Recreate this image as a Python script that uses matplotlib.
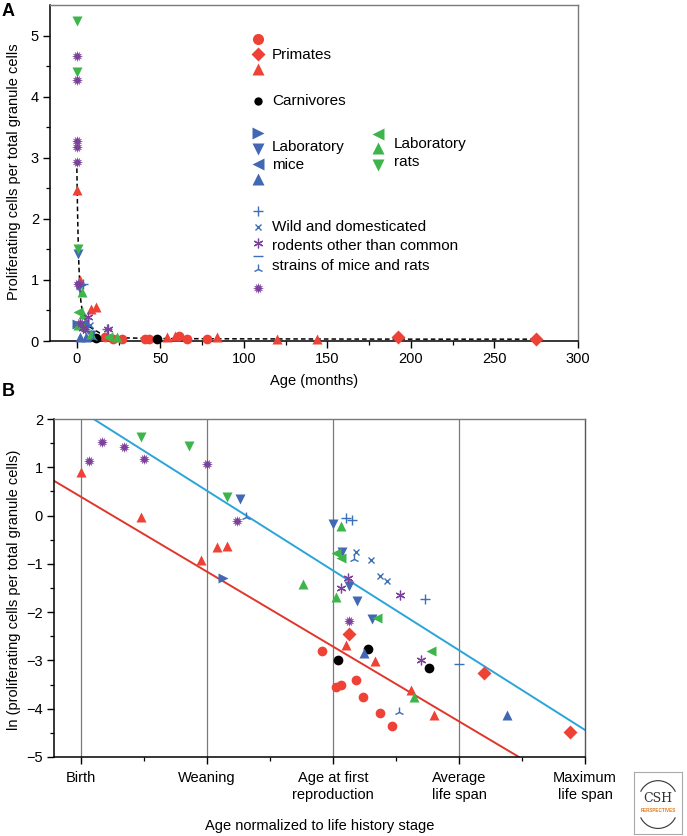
import numpy as np
import matplotlib
matplotlib.use('Agg')
import matplotlib.pyplot as plt
from matplotlib.patches import Arc

plt.rcParams['font.family'] = ['Liberation Sans', 'DejaVu Sans']
plt.rcParams['font.size'] = 10.5

RED = '#ee4236'
GREEN = '#3db54a'
BLUE = '#4368b3'
PURPLE = '#7b3f9c'
CROSS = '#3b6fb6'
CYAN = '#2aa5d9'
BURST = (12, 1, 0)
ASTER = (6, 2, 0)

# ---------------- panel A data (age in months, proliferating fraction) ----------------
a_red_circle_x = [17, 22, 27, 41, 43, 61, 66, 78]
a_red_circle_y = [0.06, 0.04, 0.04, 0.04, 0.04, 0.08, 0.03, 0.03]
a_red_diamond_x = [192, 275]
a_red_diamond_y = [0.06, 0.03]
a_red_tri_x = [0, 2.2, 8.8, 11.8, 54, 59, 84, 120, 144]
a_red_tri_y = [2.47, 1.0, 0.53, 0.55, 0.07, 0.08, 0.07, 0.03, 0.03]
a_black_x = [11.4, 48]
a_black_y = [0.05, 0.04]
a_blue_right_x = [0, 2.8]
a_blue_right_y = [0.28, 0.92]
a_blue_down_x = [0.5, 1.5, 8.8]
a_blue_down_y = [1.43, 0.88, 0.1]
a_blue_left_x = [0, 4.5]
a_blue_left_y = [0.24, 0.3]
a_blue_up_x = [2.0, 5.8]
a_blue_up_y = [0.06, 0.07]
a_green_left_x = [0.8, 1.8, 18.7]
a_green_left_y = [0.48, 0.21, 0.07]
a_green_up_x = [3.0, 3.8, 0.8, 8.8, 23.8]
a_green_up_y = [0.81, 0.45, 0.26, 0.12, 0.07]
a_green_down_x = [0, 0, 1.0]
a_green_down_y = [5.24, 4.41, 1.5]
a_plus_x = [3.5, 18]
a_plus_y = [0.93, 0.2]
a_x_x = [7.8]
a_x_y = [0.26]
a_star_x = [6.7, 18.7, 4.0]
a_star_y = [0.4, 0.19, 0.22]
a_tri2_x = [10]
a_tri2_y = [0.05]
a_burst_x = [0, 0, 0, 0, 0, 0.5, 2.0, 5.0]
a_burst_y = [4.67, 4.28, 3.28, 3.17, 2.93, 0.93, 0.3, 0.2]

# dashed fitted curve
curve_x = [0.0, 0.5, 1.0, 1.5, 2.4, 3.5, 5.0, 7.8, 13.8, 20, 30, 50, 100, 200, 275]
curve_y = [2.95, 2.1, 1.45, 1.1, 0.67, 0.45, 0.33, 0.23, 0.13, 0.07, 0.05, 0.04, 0.035, 0.03, 0.03]

# ---------------- panel B data (life-history stage, ln fraction) ----------------
stage_labels = ['Birth', 'Weaning', 'Age at first\nreproduction', 'Average\nlife span', 'Maximum\nlife span']

b_red_circle_x = [1.91, 2.02, 2.06, 2.18, 2.24, 2.37, 2.47]
b_red_circle_y = [-2.8, -3.55, -3.51, -3.40, -3.75, -4.08, -4.35]
b_red_diamond_x = [2.13, 3.20, 3.88]
b_red_diamond_y = [-2.45, -3.25, -4.49]
b_red_tri_x = [0.0, 0.48, 0.95, 1.08, 1.16, 2.10, 2.33, 2.62, 2.80]
b_red_tri_y = [0.91, -0.02, -0.92, -0.66, -0.62, -2.68, -3.02, -3.62, -4.13]
b_black_x = [2.04, 2.28, 2.76]
b_black_y = [-3.0, -2.76, -3.15]
b_blue_right_x = [1.13]
b_blue_right_y = [-1.29]
b_blue_down_x = [1.26, 2.0, 2.07, 2.13, 2.19, 2.31]
b_blue_down_y = [0.34, -0.17, -0.75, -1.46, -1.76, -2.15]
b_blue_up_x = [2.25, 3.38]
b_blue_up_y = [-2.85, -4.13]
b_green_left_x = [2.02, 2.06, 2.35, 2.78]
b_green_left_y = [-0.77, -0.88, -2.13, -2.80]
b_green_up_x = [1.76, 2.02, 2.06, 2.64]
b_green_up_y = [-1.42, -1.69, -0.21, -3.76]
b_green_down_x = [0.48, 0.86, 1.16]
b_green_down_y = [1.62, 1.45, 0.38]
b_plus_x = [2.10, 2.15, 2.73]
b_plus_y = [-0.06, -0.09, -1.73]
b_x_x = [2.18, 2.30, 2.37, 2.43]
b_x_y = [-0.75, -0.92, -1.26, -1.35]
b_star_x = [2.06, 2.12, 2.53, 2.70]
b_star_y = [-1.5, -1.30, -1.64, -3.0]
b_dash_x = [3.0]
b_dash_y = [-3.07]
b_tri2_x = [1.31, 2.17, 2.52]
b_tri2_y = [-0.02, -0.9, -4.06]
b_burst_x = [0.06, 0.17, 0.34, 0.5, 1.0, 1.24, 2.13]
b_burst_y = [1.14, 1.52, 1.43, 1.17, 1.07, -0.11, -2.18]

# regression lines (end points)
cyan_x = [0.10, 4.0]
cyan_y = [2.0, -4.44]
red_x = [-0.214, 3.476]
red_y = [0.72, -5.0]

W, H = 687, 836
fig = plt.figure(figsize=(W / 100, H / 100), dpi=100)


def fx(px):
    return px / W


def fy(py):
    return 1 - py / H


def style_axes(ax):
    for s in ['top', 'right']:
        ax.spines[s].set_color('#7a7a7a')
        ax.spines[s].set_linewidth(1.0)
    for s in ['left', 'bottom']:
        ax.spines[s].set_linewidth(1.1)
    ax.tick_params(which='major', direction='out', length=5, width=1.0, labelsize=10.5, pad=3)
    ax.tick_params(which='minor', direction='out', length=3, width=0.9)
    ax.tick_params(top=False, right=False, which='both')


# marker size and line width per marker kind
LINE_MARKS = {'+': (7, 1.0), 'x': (5, 1.0), '_': (7, 1.0), '2': (7, 1.0), ASTER: (7, 0.9)}


def draw_mark(ax, xs, ys, mk, col, ms=7, **kw):
    if mk in LINE_MARKS:
        size, mew = LINE_MARKS[mk]
        ax.plot(xs, ys, linestyle='none', marker=mk, color=col, ms=size, mew=mew,
                clip_on=False, zorder=3, **kw)
    else:
        if mk == BURST:
            ms = 8
        ax.plot(xs, ys, linestyle='none', marker=mk, color=col, mec='none', ms=ms,
                clip_on=False, zorder=3, **kw)


# ---------------- panel A ----------------
axA = fig.add_axes([fx(50), fy(341), fx(578) - fx(50), fy(5) - fy(341)])
style_axes(axA)
axA.plot(curve_x, curve_y, color='black', linestyle=(0, (3, 2)), lw=1.1, zorder=2)
groups_a = [
    (a_red_circle_x, a_red_circle_y, 'o', RED),
    (a_red_diamond_x, a_red_diamond_y, 'D', RED),
    (a_red_tri_x, a_red_tri_y, '^', RED),
    (a_black_x, a_black_y, 'o', 'black'),
    (a_blue_right_x, a_blue_right_y, '>', BLUE),
    (a_blue_down_x, a_blue_down_y, 'v', BLUE),
    (a_blue_left_x, a_blue_left_y, '<', BLUE),
    (a_blue_up_x, a_blue_up_y, '^', BLUE),
    (a_green_left_x, a_green_left_y, '<', GREEN),
    (a_green_up_x, a_green_up_y, '^', GREEN),
    (a_green_down_x, a_green_down_y, 'v', GREEN),
    (a_plus_x, a_plus_y, '+', CROSS),
    (a_x_x, a_x_y, 'x', CROSS),
    (a_star_x, a_star_y, ASTER, PURPLE),
    (a_tri2_x, a_tri2_y, '2', CROSS),
    (a_burst_x, a_burst_y, BURST, PURPLE),
]
for xs, ys, mk, col in groups_a:
    draw_mark(axA, xs, ys, mk, col)
axA.set_xlim(-16, 300)
axA.set_ylim(0, 5.5)
axA.set_xticks([0, 50, 100, 150, 200, 250, 300])
axA.set_xticks(np.arange(25, 300, 50), minor=True)
axA.set_yticks([0, 1, 2, 3, 4, 5])
axA.set_yticks(np.arange(0.5, 5.5, 1.0), minor=True)
fig.text(fx(314), fy(381), 'Age (months)', ha='center', va='center', fontsize=10.5)
fig.text(fx(14), fy(172), 'Proliferating cells per total granule cells', rotation=90,
         ha='center', va='center', fontsize=10.5)
fig.text(fx(2), fy(12), 'A', fontsize=13, fontweight='bold', ha='left', va='center')

# legend drawn by hand, same layout as the figure
def leg_mark(px, py, mk, col, ms=8):
    draw_mark(axA, [fx(px)], [fy(py)], mk, col, ms=ms, transform=fig.transFigure)


def leg_text(px, py, s):
    fig.text(fx(px), fy(py), s, ha='left', va='center', fontsize=11)


leg_mark(258, 39, 'o', RED)
leg_mark(258, 54, 'D', RED, 7)
leg_mark(258, 69, '^', RED)
leg_text(272, 55, 'Primates')
leg_mark(258, 101, 'o', 'black', 6)
leg_text(272, 101, 'Carnivores')
leg_mark(258, 133, '>', BLUE)
leg_mark(258, 149, 'v', BLUE)
leg_mark(258, 164, '<', BLUE)
leg_mark(258, 179, '^', BLUE)
leg_text(272, 147, 'Laboratory')
leg_text(272, 165, 'mice')
leg_mark(378, 134, '<', GREEN)
leg_mark(378, 148, '^', GREEN)
leg_mark(378, 165, 'v', GREEN)
leg_text(394, 144, 'Laboratory')
leg_text(394, 162, 'rats')
leg_mark(258, 211, '+', CROSS)
leg_mark(258, 227, 'x', CROSS)
leg_mark(258, 243, ASTER, PURPLE)
leg_mark(258, 256, '_', CROSS)
leg_mark(258, 269, '2', CROSS)
leg_mark(258, 288, BURST, PURPLE)
leg_text(272, 227, 'Wild and domesticated')
leg_text(272, 246, 'rodents other than common')
leg_text(272, 266, 'strains of mice and rats')

# ---------------- panel B ----------------
axB = fig.add_axes([fx(54), fy(757), fx(585) - fx(54), fy(419) - fy(757)])
style_axes(axB)
axB.spines['right'].set_color('#555555')
for s in range(4):
    axB.axvline(s, color='#7a7a7a', lw=0.9, zorder=1)
axB.plot(cyan_x, cyan_y, color=CYAN, lw=1.4, zorder=2)
axB.plot(red_x, red_y, color='#e0362b', lw=1.4, zorder=2)
groups_b = [
    (b_red_circle_x, b_red_circle_y, 'o', RED),
    (b_red_diamond_x, b_red_diamond_y, 'D', RED),
    (b_red_tri_x, b_red_tri_y, '^', RED),
    (b_black_x, b_black_y, 'o', 'black'),
    (b_blue_right_x, b_blue_right_y, '>', BLUE),
    (b_blue_down_x, b_blue_down_y, 'v', BLUE),
    (b_blue_up_x, b_blue_up_y, '^', BLUE),
    (b_green_left_x, b_green_left_y, '<', GREEN),
    (b_green_up_x, b_green_up_y, '^', GREEN),
    (b_green_down_x, b_green_down_y, 'v', GREEN),
    (b_plus_x, b_plus_y, '+', CROSS),
    (b_x_x, b_x_y, 'x', CROSS),
    (b_star_x, b_star_y, ASTER, PURPLE),
    (b_dash_x, b_dash_y, '_', CROSS),
    (b_tri2_x, b_tri2_y, '2', CROSS),
    (b_burst_x, b_burst_y, BURST, PURPLE),
]
for xs, ys, mk, col in groups_b:
    draw_mark(axB, xs, ys, mk, col)
axB.set_xlim(-0.214, 4.0)
axB.set_ylim(-5, 2)
axB.set_xticks(range(5))
axB.set_xticklabels(stage_labels, linespacing=1.25)
axB.set_xticks(np.arange(0.5, 4, 1.0), minor=True)
axB.set_yticks(range(-5, 3))
axB.set_yticks(np.arange(-4.5, 2, 1.0), minor=True)
axB.tick_params(axis='x', which='major', pad=5)
fig.text(fx(320), fy(826), 'Age normalized to life history stage', ha='center', va='center',
         fontsize=10.5)
fig.text(fx(14), fy(590), 'ln (proliferating cells per total granule cells)', rotation=90,
         ha='center', va='center', fontsize=10.5)
fig.text(fx(2), fy(392), 'B', fontsize=13, fontweight='bold', ha='left', va='center')

# small publisher badge, bottom right
logo = fig.add_axes([fx(634), fy(834), fx(48), fy(0) - fy(62)])
logo.set_xlim(0, 1)
logo.set_ylim(0, 1)
logo.set_xticks([])
logo.set_yticks([])
for s in logo.spines.values():
    s.set_color('#aaaaaa')
    s.set_linewidth(0.8)
logo.add_patch(Arc((0.5, 0.55), 0.8, 0.62, theta1=20, theta2=160, color='#333333', lw=0.8))
logo.add_patch(Arc((0.5, 0.4), 0.8, 0.62, theta1=200, theta2=340, color='#333333', lw=0.8))
logo.text(0.5, 0.57, 'CSH', ha='center', va='center', fontsize=9, color='#333333',
          family='DejaVu Serif')
logo.text(0.5, 0.38, 'PERSPECTIVES', ha='center', va='center', fontsize=3.3, color='#e07b1e',
          fontweight='bold')

fig.savefig('out.png', dpi=100)
